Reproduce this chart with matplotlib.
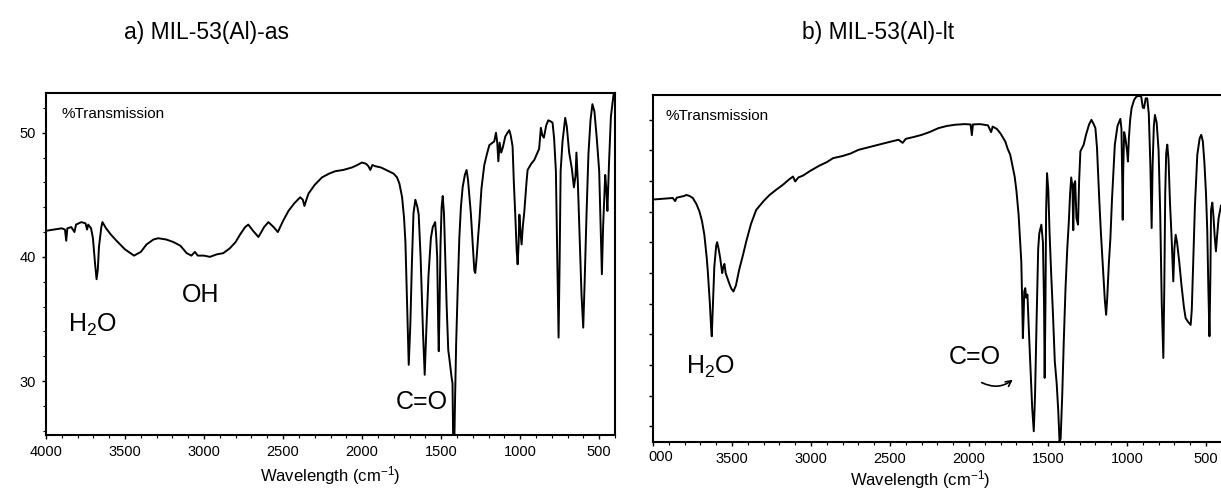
import matplotlib.pyplot as plt
from matplotlib.ticker import MultipleLocator, FixedLocator

plt.switch_backend("Agg")

plt.rcParams['font.family'] = 'Liberation Sans'
plt.rcParams['mathtext.fontset'] = 'custom'
plt.rcParams['mathtext.rm'] = 'Liberation Sans'
plt.rcParams['mathtext.default'] = 'regular'

# a) MIL-53(Al)-as (wavenumber, %T)
wn_as = [4000, 3950, 3900, 3880, 3872, 3865, 3840, 3820, 3810, 3776, 3750, 3740, 3733,
         3715, 3703, 3690, 3680, 3672, 3665, 3650, 3643, 3620, 3590, 3554, 3500, 3443,
         3400, 3364, 3320, 3290, 3240, 3195, 3150, 3110, 3080, 3058, 3040, 3000, 2963,
         2920, 2878, 2836, 2800, 2772, 2740, 2720, 2690, 2656, 2620, 2593, 2560, 2533,
         2500, 2466, 2430, 2392, 2375, 2365, 2350, 2339, 2300, 2254, 2210, 2170, 2120,
         2064, 2030, 2001, 1975, 1960, 1948, 1935, 1916, 1880, 1832, 1800, 1779, 1764,
         1747, 1735, 1726, 1715, 1705, 1695, 1685, 1675, 1663, 1650, 1642, 1630, 1615,
         1604, 1594, 1580, 1565, 1553, 1545, 1538, 1532, 1525, 1518, 1515, 1510, 1504,
         1497, 1490, 1482, 1475, 1465, 1455, 1445, 1435, 1428, 1423, 1418, 1412, 1405,
         1395, 1385, 1375, 1364, 1350, 1339, 1330, 1322, 1312, 1300, 1290, 1284, 1275,
         1265, 1258, 1245, 1227, 1210, 1195, 1175, 1164, 1153, 1145, 1138, 1130, 1120,
         1110, 1094, 1080, 1069, 1060, 1048, 1040, 1031, 1022, 1016, 1010, 1005, 998,
         991, 983, 974, 960, 953, 930, 911, 890, 880, 869, 860, 850, 835, 822, 805, 795,
         785, 774, 765, 757, 750, 744, 732, 715, 705, 690, 673, 660, 650, 644, 635, 625,
         612, 601, 592, 580, 568, 555, 543, 530, 515, 500, 490, 483, 475, 462, 455, 448,
         438, 426, 410, 400]
t_as = [42.1, 42.2, 42.3, 42.2, 41.3, 42.3, 42.4, 42.0, 42.6, 42.8, 42.7, 42.2, 42.6,
        42.3, 41.5, 39.5, 38.2, 39.0, 40.8, 42.4, 42.8, 42.3, 41.8, 41.3, 40.6, 40.1,
        40.4, 41.0, 41.4, 41.5, 41.4, 41.2, 40.9, 40.3, 40.1, 40.4, 40.1, 40.1, 40.0,
        40.2, 40.3, 40.7, 41.2, 41.8, 42.4, 42.6, 42.1, 41.6, 42.4, 42.8, 42.4, 42.0,
        42.9, 43.7, 44.3, 44.8, 44.6, 44.1, 44.7, 45.1, 45.8, 46.4, 46.7, 46.9, 47.0,
        47.2, 47.4, 47.6, 47.5, 47.3, 47.0, 47.4, 47.3, 47.2, 46.9, 46.7, 46.4, 45.9,
        44.8, 43.2, 41.2, 36.0, 31.3, 34.5, 39.5, 43.5, 44.6, 44.0, 43.4, 40.0, 34.0,
        30.5, 34.0, 38.5, 41.5, 42.4, 42.6, 42.8, 41.8, 40.0, 34.0, 32.4, 36.0, 41.0,
        44.0, 44.9, 43.5, 40.5, 36.0, 32.5, 31.5, 30.4, 29.8, 24.0, 24.0, 28.5, 33.0,
        37.5, 41.5, 44.0, 45.6, 46.6, 47.0, 46.2, 45.0, 43.5, 41.0, 38.9, 38.7, 40.0,
        41.8, 42.9, 45.5, 47.4, 48.3, 49.0, 49.2, 49.3, 50.0, 49.2, 47.7, 49.2, 48.4,
        48.8, 49.7, 50.0, 50.2, 49.8, 48.9, 46.0, 43.4, 40.5, 39.4, 41.0, 43.4, 42.0,
        41.0, 42.5, 43.6, 46.0, 47.0, 47.5, 47.8, 48.4, 48.7, 50.4, 49.8, 49.6, 50.6,
        51.0, 50.9, 50.8, 49.5, 46.9, 40.0, 33.5, 40.0, 46.9, 49.3, 51.2, 50.5, 48.4,
        47.1, 45.6, 46.5, 48.4, 46.0, 42.0, 37.0, 34.3, 38.0, 43.5, 48.3, 51.0, 52.3,
        51.7, 49.5, 46.9, 42.0, 38.6, 42.5, 46.6, 45.5, 43.7, 47.5, 51.3, 53.0, 53.4]

# b) MIL-53(Al)-lt, y axis is unlabeled in the source (tick units)
wn_lt = [4000, 3950, 3900, 3875, 3860, 3850, 3800, 3791, 3770, 3748, 3725, 3706, 3690,
         3675, 3660, 3653, 3640, 3632, 3628, 3622, 3612, 3600, 3594, 3585, 3575, 3562,
         3555, 3548, 3540, 3520, 3505, 3491, 3475, 3455, 3430, 3410, 3380, 3347, 3300,
         3262, 3220, 3178, 3140, 3114, 3100, 3080, 3051, 3000, 2945, 2900, 2860, 2800,
         2750, 2700, 2640, 2573, 2510, 2446, 2420, 2400, 2350, 2299, 2250, 2193, 2140,
         2087, 2030, 1990, 1982, 1975, 1930, 1880, 1860, 1850, 1823, 1800, 1770, 1755,
         1739, 1725, 1711, 1700, 1686, 1675, 1669, 1663, 1659, 1655, 1650, 1644, 1638,
         1630, 1620, 1610, 1600, 1590, 1582, 1572, 1562, 1555, 1542, 1532, 1525, 1521,
         1516, 1512, 1506, 1498, 1490, 1480, 1468, 1457, 1445, 1435, 1427, 1420, 1410,
         1400, 1389, 1378, 1368, 1360, 1353, 1345, 1340, 1335, 1328, 1320, 1310, 1303,
         1295, 1274, 1260, 1240, 1225, 1210, 1200, 1190, 1175, 1165, 1150, 1140, 1132,
         1125, 1115, 1105, 1095, 1077, 1060, 1042, 1035, 1030, 1027, 1024, 1018, 1010,
         1000, 994, 988, 980, 971, 955, 940, 925, 910, 900, 892, 882, 872, 862, 852, 844,
         838, 830, 823, 812, 800, 790, 780, 770, 764, 758, 752, 745, 737, 728, 718, 707,
         700, 692, 683, 670, 655, 640, 629, 612, 597, 590, 580, 570, 555, 540, 530, 520,
         510, 500, 492, 485, 478, 472, 468, 460, 452, 445, 437, 430, 420, 405]
t_lt = [8.40, 8.42, 8.44, 8.45, 8.35, 8.46, 8.52, 8.55, 8.52, 8.45, 8.25, 8.01, 7.7,
        7.25, 6.5, 6.05, 5.0, 4.2, 3.94, 4.8, 6.2, 6.9, 7.01, 6.8, 6.5, 6.0,
        6.2, 6.3, 6.0, 5.7, 5.5, 5.40, 5.6, 6.1, 6.6, 7.03, 7.6, 8.06, 8.35,
        8.55, 8.72, 8.88, 9.05, 9.15, 8.99, 9.12, 9.18, 9.35, 9.51, 9.62, 9.75, 9.82,
        9.90, 10.02, 10.10, 10.19, 10.27, 10.35, 10.25, 10.38, 10.44, 10.51, 10.60, 10.73, 10.80,
        10.84, 10.86, 10.85, 10.5, 10.85, 10.86, 10.82, 10.6, 10.78, 10.70, 10.55, 10.29, 10.05,
        9.86, 9.5, 9.15, 8.7, 7.9, 6.9, 6.38, 5.0, 3.88, 4.5, 5.4, 5.51, 5.2,
        5.3, 4.0, 2.8, 1.6, 0.84, 2.0, 4.5, 6.8, 7.3, 7.58, 7.0, 5.0, 2.58,
        5.0, 8.0, 9.26, 8.7, 7.3, 6.0, 4.6, 3.12, 2.4, 1.5, 0.51, 0.6, 2.0,
        3.8, 5.51, 6.8, 7.69, 8.6, 9.12, 8.8, 7.4, 8.9, 9.0, 7.8, 7.58, 9.0,
        9.97, 10.19, 10.5, 10.85, 11.0, 10.85, 10.73, 10.1, 8.34, 7.3, 6.0, 5.1, 4.64,
        5.2, 6.3, 7.14, 8.4, 10.19, 10.8, 11.03, 10.7, 9.0, 7.74, 9.3, 10.6, 10.4,
        10.0, 9.64, 10.4, 11.0, 11.38, 11.65, 11.76, 11.78, 11.76, 11.4, 11.38, 11.7, 11.7, 11.2, 9.5, 7.47,
        9.5, 10.8, 11.16, 10.9, 10.0, 8.0, 5.0, 3.23, 5.5, 8.6, 9.9, 10.19, 9.7, 8.3, 7.2, 5.73,
        6.8, 7.25, 7.0, 6.4, 5.6, 4.9, 4.53, 4.4, 4.31, 4.8, 6.5, 8.2, 9.86, 10.4, 10.51, 10.3,
        9.6, 8.6, 7.4, 5.5, 3.94, 6.0, 8.06, 8.3, 7.8, 7.2, 6.71, 7.2, 7.8, 8.2]

xticks = [4000, 3500, 3000, 2500, 2000, 1500, 1000, 500]

W, H = 1221, 491
fig = plt.figure(figsize=(W / 100, H / 100), dpi=100)


def style_axes(ax):
    for s in ax.spines.values():
        s.set_linewidth(1.5)
    ax.tick_params(direction='out', length=3, width=1.0, labelsize=10.5, pad=4)
    ax.tick_params(which='minor', direction='out', length=2, width=0.8)
    ax.set_xticks(xticks)
    ax.xaxis.set_minor_locator(MultipleLocator(100))


# left panel
ax1 = fig.add_axes([46 / W, (H - 435) / H, 569 / W, 342 / H])
ax1.plot(wn_as, t_as, color='black', lw=1.4)
ax1.set_xlim(4000, 400)
ax1.set_ylim(25.65, 53.2)
style_axes(ax1)
ax1.set_yticks([30, 40, 50])
ax1.yaxis.set_minor_locator(MultipleLocator(2))
ax1.set_xlabel(r'Wavelength (cm$^{-1}$)', fontsize=12)
ax1.xaxis.set_label_coords(0.5, -0.085)
ax1.text(0.027, 0.94, '%Transmission', transform=ax1.transAxes, fontsize=11,
         va='center', ha='left')
ax1.text(3703, 34.5, 'H$_2$O', fontsize=18, ha='center', va='center')
ax1.text(3021, 36.9, 'OH', fontsize=18, ha='center', va='center')
ax1.text(1625, 28.3, 'C=O', fontsize=18, ha='center', va='center')

# right panel (cropped on the right in the source)
ax2 = fig.add_axes([653 / W, (H - 442) / H, 568 / W, 347 / H])
ax2.plot(wn_lt, t_lt, color='black', lw=1.4)
ax2.set_xlim(4000, 405)
ax2.set_ylim(0.49, 11.81)
style_axes(ax2)
ax2.spines['right'].set_visible(False)
ax2.set_xticklabels([''] + [str(v) for v in xticks[1:]])
ax2.yaxis.set_major_locator(FixedLocator(range(1, 12)))
ax2.tick_params(axis='y', labelleft=False)
ax2.set_xlabel(r'Wavelength (cm$^{-1}$)', fontsize=12)
ax2.xaxis.set_label_coords(0.47, -0.075)
ax2.text(0.022, 0.94, '%Transmission', transform=ax2.transAxes, fontsize=11,
         va='center', ha='left')
ax2.text(3639, 2.93, 'H$_2$O', fontsize=18, ha='center', va='center')
ax2.text(1962, 3.26, 'C=O', fontsize=18, ha='center', va='center')
ax2.annotate('', xy=(1709, 2.58), xytext=(1935, 2.47),
             arrowprops=dict(arrowstyle='->', color='black', lw=1.2,
                             connectionstyle='arc3,rad=0.35'))
fig.text(661 / W, 1 - 457 / H, '000', fontsize=10.5, ha='center', va='center')

# panel titles
fig.text(206 / W, 1 - 32 / H, 'a) MIL-53(Al)-as', fontsize=16.5, ha='center', va='center')
fig.text(878 / W, 1 - 32 / H, 'b) MIL-53(Al)-lt', fontsize=16.5, ha='center', va='center')

fig.savefig('out.png', dpi=100)
